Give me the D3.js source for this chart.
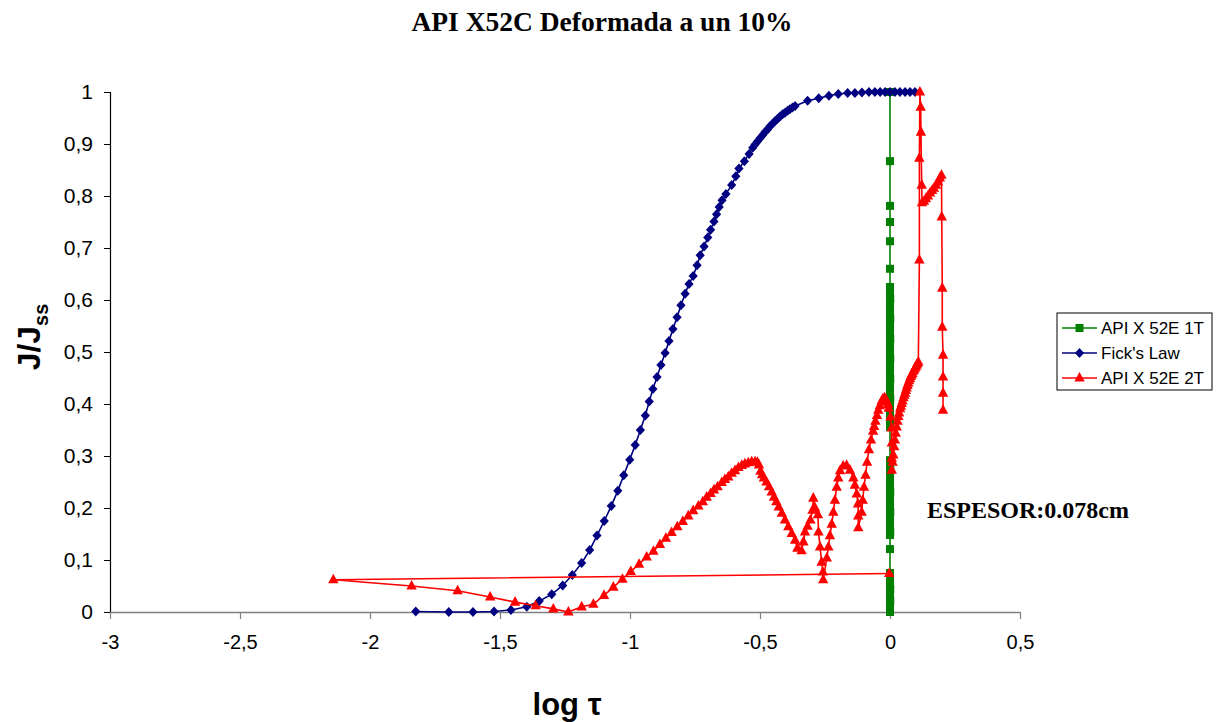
<!DOCTYPE html>
<html>
<head>
<meta charset="utf-8">
<script src="https://cdn.jsdelivr.net/npm/d3@7"></script>
<style>
  body { margin: 0; background: #ffffff; }
</style>
</head>
<body>
<svg id="chart" width="1218" height="722" font-family="Liberation Sans, Arial, sans-serif"></svg>
<script>
// ---- data ----
const xTicks = [-3, -2.5, -2, -1.5, -1, -0.5, 0, 0.5];
const yTicks = [0, 0.1, 0.2, 0.3, 0.4, 0.5, 0.6, 0.7, 0.8, 0.9, 1];

const seriesNames = ["API X 52E 1T", "Fick's Law", "API X 52E 2T"];

// API X 52E 1T : [log tau, J/Jss]
const api1T = [
  [0.000, 0.000], [0.000, 0.006], [0.000, 0.013], [0.001, 0.021], [0.000, 0.029],
  [0.000, 0.037], [0.001, 0.044], [0.000, 0.052], [0.000, 0.060], [0.000, 0.067],
  [0.000, 0.075], [0.000, 0.121], [0.000, 0.148], [0.001, 0.154], [0.000, 0.162],
  [0.000, 0.169], [0.000, 0.177], [0.000, 0.185], [0.001, 0.192], [0.000, 0.200],
  [0.000, 0.208], [0.000, 0.215], [0.000, 0.223], [0.001, 0.231], [0.000, 0.238],
  [0.000, 0.246], [0.000, 0.254], [0.000, 0.262], [0.000, 0.269], [0.001, 0.277],
  [0.000, 0.285], [0.000, 0.292], [0.000, 0.356], [0.000, 0.364], [0.001, 0.371],
  [0.000, 0.379], [0.000, 0.387], [0.000, 0.394], [0.000, 0.402], [0.001, 0.410],
  [0.000, 0.417], [0.000, 0.425], [0.000, 0.433], [0.000, 0.440], [0.001, 0.448],
  [0.000, 0.456], [0.000, 0.464], [0.000, 0.471], [0.000, 0.479], [0.001, 0.487],
  [0.000, 0.494], [0.000, 0.502], [0.000, 0.510], [0.000, 0.518], [0.001, 0.525],
  [0.000, 0.533], [0.000, 0.541], [0.000, 0.548], [0.000, 0.556], [0.001, 0.564],
  [0.000, 0.571], [0.000, 0.579], [0.000, 0.586], [0.000, 0.595], [0.001, 0.602],
  [0.000, 0.611], [0.000, 0.618], [0.000, 0.625], [0.000, 0.660], [0.000, 0.713],
  [0.000, 0.750], [0.000, 0.781], [0.000, 0.867], [0.000, 1.000]
];

// Fick's Law : [log tau, J/Jss]
const ficksLaw = [
  [-1.824, 0.001], [-1.697, 0.000], [-1.604, 0.000], [-1.523, 0.001], [-1.458, 0.004],
  [-1.397, 0.010], [-1.349, 0.021], [-1.301, 0.034], [-1.259, 0.051], [-1.222, 0.071],
  [-1.186, 0.094], [-1.155, 0.119], [-1.127, 0.147], [-1.099, 0.175], [-1.072, 0.204],
  [-1.047, 0.233], [-1.024, 0.263], [-1.001, 0.293], [-0.980, 0.321], [-0.960, 0.350],
  [-0.941, 0.378], [-0.926, 0.405], [-0.912, 0.429], [-0.896, 0.452], [-0.881, 0.475],
  [-0.865, 0.498], [-0.850, 0.521], [-0.835, 0.544], [-0.819, 0.567], [-0.804, 0.590],
  [-0.788, 0.612], [-0.773, 0.631], [-0.757, 0.646], [-0.742, 0.667], [-0.730, 0.686],
  [-0.715, 0.703], [-0.701, 0.720], [-0.690, 0.735], [-0.677, 0.751], [-0.667, 0.765],
  [-0.657, 0.779], [-0.646, 0.792], [-0.631, 0.804], [-0.609, 0.821], [-0.593, 0.838],
  [-0.581, 0.853], [-0.560, 0.867], [-0.542, 0.881], [-0.528, 0.893], [-0.519, 0.899],
  [-0.510, 0.905], [-0.500, 0.911], [-0.490, 0.917], [-0.481, 0.923], [-0.471, 0.928],
  [-0.462, 0.934], [-0.452, 0.939], [-0.442, 0.944], [-0.433, 0.948], [-0.423, 0.953],
  [-0.413, 0.957], [-0.404, 0.960], [-0.394, 0.964], [-0.385, 0.967], [-0.375, 0.970],
  [-0.365, 0.973], [-0.317, 0.983], [-0.274, 0.988], [-0.235, 0.993], [-0.199, 0.996],
  [-0.163, 0.998], [-0.135, 0.998], [-0.108, 0.999], [-0.081, 1.000], [-0.058, 1.000],
  [-0.038, 1.000], [-0.019, 1.000], [0.000, 1.000], [0.019, 1.000], [0.038, 1.000],
  [0.058, 1.000], [0.077, 1.000], [0.096, 1.000]
];

// API X 52E 2T : [log tau, J/Jss]
const api2T = [
  [-0.003, 0.074], [-2.141, 0.062], [-1.840, 0.050], [-1.663, 0.041], [-1.538, 0.029],
  [-1.442, 0.019], [-1.363, 0.012], [-1.295, 0.006], [-1.237, 0.000], [-1.186, 0.010],
  [-1.141, 0.015], [-1.100, 0.032], [-1.064, 0.048], [-1.029, 0.063], [-0.997, 0.078],
  [-0.965, 0.092], [-0.936, 0.106], [-0.910, 0.117], [-0.885, 0.130], [-0.862, 0.142],
  [-0.840, 0.153], [-0.818, 0.164], [-0.797, 0.174], [-0.776, 0.185], [-0.757, 0.195],
  [-0.737, 0.204], [-0.720, 0.212], [-0.705, 0.221], [-0.690, 0.228], [-0.677, 0.235],
  [-0.663, 0.241], [-0.647, 0.249], [-0.635, 0.255], [-0.622, 0.260], [-0.609, 0.267],
  [-0.596, 0.272], [-0.583, 0.278], [-0.570, 0.282], [-0.558, 0.285], [-0.545, 0.287],
  [-0.532, 0.289], [-0.519, 0.289], [-0.510, 0.288], [-0.504, 0.283], [-0.498, 0.271],
  [-0.492, 0.264], [-0.485, 0.258], [-0.475, 0.250], [-0.465, 0.241], [-0.455, 0.231],
  [-0.446, 0.221], [-0.437, 0.212], [-0.428, 0.202], [-0.416, 0.190], [-0.404, 0.177],
  [-0.391, 0.164], [-0.378, 0.151], [-0.365, 0.138], [-0.356, 0.123], [-0.340, 0.118],
  [-0.333, 0.135], [-0.327, 0.154], [-0.317, 0.165], [-0.306, 0.177], [-0.298, 0.196],
  [-0.295, 0.219], [-0.288, 0.200], [-0.277, 0.187], [-0.275, 0.154], [-0.269, 0.125],
  [-0.263, 0.096], [-0.258, 0.077], [-0.257, 0.062], [-0.243, 0.104], [-0.237, 0.125],
  [-0.231, 0.147], [-0.224, 0.169], [-0.218, 0.192], [-0.212, 0.215], [-0.205, 0.240],
  [-0.199, 0.258], [-0.192, 0.272], [-0.180, 0.281], [-0.167, 0.282], [-0.154, 0.273],
  [-0.141, 0.258], [-0.135, 0.244], [-0.128, 0.227], [-0.123, 0.208], [-0.122, 0.185],
  [-0.122, 0.162], [-0.109, 0.192], [-0.105, 0.215], [-0.100, 0.240], [-0.094, 0.263],
  [-0.088, 0.288], [-0.081, 0.312], [-0.073, 0.331], [-0.065, 0.348], [-0.061, 0.357],
  [-0.056, 0.367], [-0.050, 0.378], [-0.045, 0.388], [-0.039, 0.397], [-0.032, 0.406],
  [-0.027, 0.410], [-0.021, 0.412], [-0.016, 0.409], [-0.012, 0.404], [-0.008, 0.399],
  [-0.005, 0.392], [0.002, 0.375], [0.006, 0.354], [0.007, 0.325], [0.007, 0.296],
  [0.007, 0.273], [0.010, 0.288], [0.013, 0.302], [0.016, 0.318], [0.019, 0.331],
  [0.022, 0.344], [0.026, 0.356], [0.029, 0.367], [0.032, 0.376], [0.035, 0.383],
  [0.039, 0.391], [0.042, 0.396], [0.045, 0.401], [0.048, 0.406], [0.052, 0.412],
  [0.055, 0.417], [0.058, 0.421], [0.061, 0.426], [0.064, 0.431], [0.067, 0.436],
  [0.070, 0.440], [0.074, 0.445], [0.077, 0.449], [0.080, 0.453], [0.083, 0.456],
  [0.086, 0.459], [0.090, 0.463], [0.093, 0.466], [0.096, 0.469], [0.100, 0.472],
  [0.103, 0.475], [0.106, 0.478], [0.109, 0.481],
  [0.113, 0.677], [0.113, 0.873], [0.115, 1.000], [0.118, 0.971], [0.119, 0.923],
  [0.122, 0.821], [0.123, 0.787], [0.131, 0.790], [0.138, 0.795], [0.146, 0.800],
  [0.154, 0.806], [0.162, 0.811], [0.169, 0.815], [0.177, 0.821], [0.185, 0.827],
  [0.192, 0.835], [0.198, 0.840], [0.199, 0.760], [0.201, 0.623], [0.201, 0.548],
  [0.204, 0.494], [0.204, 0.452], [0.204, 0.421], [0.204, 0.388]
];

// ---- layout ----
const svg = d3.select("#chart");
const x = d3.scaleLinear().domain([-3, 0.5]).range([110, 1020]);
const y = d3.scaleLinear().domain([0, 1]).range([612, 92]);

const commaFmt = d => String(d).replace(".", ",");
const serif = "Liberation Serif, Times New Roman, serif";

// marker shapes
const markerPath = {
  square: "M-4,-4H4V4H-4Z",
  diamond: "M0,-5L4.6,0L0,5L-4.6,0Z",
  triangle: "M0,-6L5.2,3.6H-5.2Z"
};

const styles = [
  { data: api1T, color: "#008000", marker: "square" },
  { data: ficksLaw, color: "#000080", marker: "diamond" },
  { data: api2T, color: "#ff0000", marker: "triangle" }
];

// y axis
const yAxis = svg.append("g")
  .attr("transform", `translate(${x(-3)},0)`)
  .call(d3.axisLeft(y).tickValues(yTicks).tickSize(6).tickPadding(11).tickFormat(commaFmt));
yAxis.attr("font-family", null).attr("font-size", null);
yAxis.select(".domain").attr("stroke", "#000").attr("stroke-width", 1.2);
yAxis.selectAll(".tick line").attr("stroke", "#000");
yAxis.selectAll("text").attr("font-size", 21).attr("fill", "#000");

// x axis
const xAxis = svg.append("g")
  .attr("transform", `translate(0,${y(0)})`)
  .call(d3.axisBottom(x).tickValues(xTicks).tickSize(7).tickSizeOuter(0).tickPadding(16).tickFormat(commaFmt));
xAxis.attr("font-family", null).attr("font-size", null);
xAxis.select(".domain").attr("stroke", "#808080").attr("stroke-width", 1.5);
xAxis.selectAll(".tick line").attr("stroke", "#808080").attr("stroke-width", 1.2);
xAxis.selectAll("text").attr("font-size", 20).attr("fill", "#000");

// series
const line = d3.line().x(d => x(d[0])).y(d => y(d[1]));
styles.forEach(s => {
  const g = svg.append("g");
  g.append("path")
    .attr("d", line(s.data))
    .attr("fill", "none")
    .attr("stroke", s.color)
    .attr("stroke-width", 1.6)
    .attr("stroke-linejoin", "round");
  g.selectAll("path.m")
    .data(s.data)
    .join("path")
    .attr("class", "m")
    .attr("d", markerPath[s.marker])
    .attr("transform", d => `translate(${x(d[0])},${y(d[1])})`)
    .attr("fill", s.color);
});

// title
svg.append("text")
  .attr("x", 602).attr("y", 31)
  .attr("text-anchor", "middle")
  .attr("font-family", serif)
  .attr("font-weight", "bold")
  .attr("font-size", 27.5)
  .text("API X52C Deformada a un 10%");

// thickness annotation
svg.append("text")
  .attr("x", 927).attr("y", 518)
  .attr("font-family", serif)
  .attr("font-weight", "bold")
  .attr("font-size", 24)
  .text("ESPESOR:0.078cm");

// y axis title
const yTitle = svg.append("text")
  .attr("transform", "translate(40,337) rotate(-90)")
  .attr("text-anchor", "middle")
  .attr("font-weight", "bold")
  .attr("font-size", 32);
yTitle.append("tspan").text("J/J");
yTitle.append("tspan").attr("font-size", 20).attr("dy", 8).text("ss");

// x axis title
svg.append("text")
  .attr("x", 567).attr("y", 715)
  .attr("text-anchor", "middle")
  .attr("font-weight", "bold")
  .attr("font-size", 31)
  .text("log τ");

// legend
const legend = svg.append("g").attr("transform", "translate(1057,313)");
legend.append("rect")
  .attr("width", 155).attr("height", 77)
  .attr("fill", "#fff").attr("stroke", "#000").attr("stroke-width", 1);
styles.forEach((s, i) => {
  const cy = 15 + i * 25;
  legend.append("line")
    .attr("x1", 5).attr("x2", 40).attr("y1", cy).attr("y2", cy)
    .attr("stroke", s.color).attr("stroke-width", 1.6);
  legend.append("path")
    .attr("d", markerPath[s.marker])
    .attr("transform", `translate(22.5,${cy})`)
    .attr("fill", s.color);
  legend.append("text")
    .attr("x", 44).attr("y", cy + 6)
    .attr("font-size", 17)
    .text(seriesNames[i]);
});
</script>
</body>
</html>
